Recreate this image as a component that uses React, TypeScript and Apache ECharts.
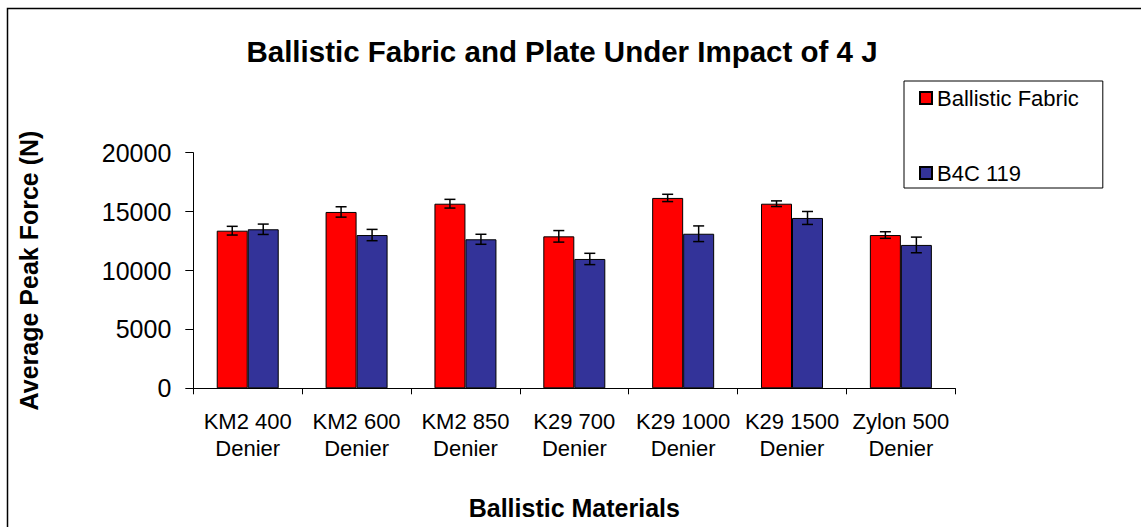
import React, { useEffect, useRef } from "react";
import * as echarts from "echarts";

const categories = [
  "KM2 400\nDenier",
  "KM2 600\nDenier",
  "KM2 850\nDenier",
  "K29 700\nDenier",
  "K29 1000\nDenier",
  "K29 1500\nDenier",
  "Zylon 500\nDenier",
];
const fabricValues = [13380, 14970, 15670, 12900, 16160, 15670, 13010];
const fabricErrors = [370, 440, 370, 490, 310, 240, 280];
const b4cValues = [13500, 13010, 12650, 10980, 13120, 14460, 12170];
const b4cErrors = [440, 480, 425, 480, 665, 550, 665];
const seriesNames = ["Ballistic Fabric", "B4C 119"];
const yTicks = { min: 0, max: 20000, interval: 5000 };

const FONT = '"Liberation Sans", Arial, sans-serif';
const BAR_W = 31;

function errorSeries(name: string, values: number[], errors: number[], offset: number) {
  return {
    type: "custom",
    name: name + " error",
    silent: true,
    z: 5,
    data: values.map((v, i) => [i, v - errors[i], v + errors[i]]),
    renderItem: (params: any, api: any) => {
      const idx = api.value(0);
      const lo = api.coord([idx, api.value(1)]);
      const hi = api.coord([idx, api.value(2)]);
      const x = lo[0] + offset;
      const cap = 5.5;
      const style = { stroke: "#000", lineWidth: 1.5 };
      return {
        type: "group",
        children: [
          { type: "line", shape: { x1: x, y1: hi[1], x2: x, y2: lo[1] }, style },
          { type: "line", shape: { x1: x - cap, y1: hi[1], x2: x + cap, y2: hi[1] }, style },
          { type: "line", shape: { x1: x - cap, y1: lo[1], x2: x + cap, y2: lo[1] }, style },
        ],
      };
    },
  };
}

export default function App() {
  const ref = useRef<HTMLDivElement>(null);
  useEffect(() => {
    if (!ref.current) return;
    const chart = echarts.init(ref.current, undefined, { renderer: "svg" });
    chart.setOption({
      animation: false,
      backgroundColor: "#fff",
      textStyle: { fontFamily: FONT, color: "#000" },
      graphic: [
        {
          type: "rect",
          shape: { x: 7.5, y: 8.5, width: 1300, height: 700 },
          style: { fill: "none", stroke: "#000", lineWidth: 1.5 },
          silent: true,
        },
        {
          type: "text",
          x: 562,
          y: 51,
          style: {
            text: "Ballistic Fabric and Plate Under Impact of 4 J",
            font: `bold 29.5px ${FONT}`,
            fill: "#000",
            textAlign: "center",
            textVerticalAlign: "middle",
          },
        },
      ],
      legend: {
        orient: "vertical",
        left: 904,
        top: 81,
        padding: [6, 24, 4, 15],
        itemGap: 53,
        itemWidth: 12,
        itemHeight: 12,
        icon: "rect",
        borderColor: "#000",
        borderWidth: 1,
        textStyle: { fontFamily: FONT, fontSize: 22, color: "#000", lineHeight: 22 },
        data: seriesNames,
      },
      grid: { left: 193.3, right: 185.7, top: 152.7, bottom: 138.7 },
      xAxis: {
        type: "category",
        data: categories,
        name: "Ballistic Materials",
        nameLocation: "middle",
        nameGap: 120,
        nameTextStyle: { fontFamily: FONT, fontSize: 25, fontWeight: "bold", color: "#000", verticalAlign: "middle" },
        axisLine: { lineStyle: { color: "#000", width: 1 } },
        axisTick: { show: true, length: 6, lineStyle: { color: "#000" } },
        axisLabel: { fontFamily: FONT, fontSize: 22, color: "#000", lineHeight: 27, margin: 20, interval: 0 },
        splitLine: { show: false },
      },
      yAxis: {
        type: "value",
        min: yTicks.min,
        max: yTicks.max,
        interval: yTicks.interval,
        name: "Average Peak Force (N)",
        nameLocation: "middle",
        nameGap: 164,
        nameRotate: 90,
        nameTextStyle: { fontFamily: FONT, fontSize: 25, fontWeight: "bold", color: "#000", verticalAlign: "middle" },
        axisLine: { show: true, lineStyle: { color: "#000", width: 1 } },
        axisTick: { show: true, length: 8, lineStyle: { color: "#000" } },
        axisLabel: {
          fontFamily: FONT,
          fontSize: 25,
          color: "#000",
          margin: 22,
          formatter: (v: number) => String(v),
        },
        splitLine: { show: false },
      },
      series: [
        {
          type: "bar",
          name: seriesNames[0],
          data: fabricValues,
          barWidth: BAR_W,
          barGap: "0%",
          itemStyle: { color: "#FF0000", borderColor: "#000", borderWidth: 1 },
        },
        {
          type: "bar",
          name: seriesNames[1],
          data: b4cValues,
          barWidth: BAR_W,
          barGap: "0%",
          itemStyle: { color: "#333399", borderColor: "#000", borderWidth: 1 },
        },
        errorSeries(seriesNames[0], fabricValues, fabricErrors, -BAR_W / 2),
        errorSeries(seriesNames[1], b4cValues, b4cErrors, BAR_W / 2),
      ],
    });
    return () => chart.dispose();
  }, []);
  return (
    <div
      ref={ref}
      style={{ position: "fixed", left: 0, top: 0, width: 1141, height: 527, background: "#fff" }}
    />
  );
}
